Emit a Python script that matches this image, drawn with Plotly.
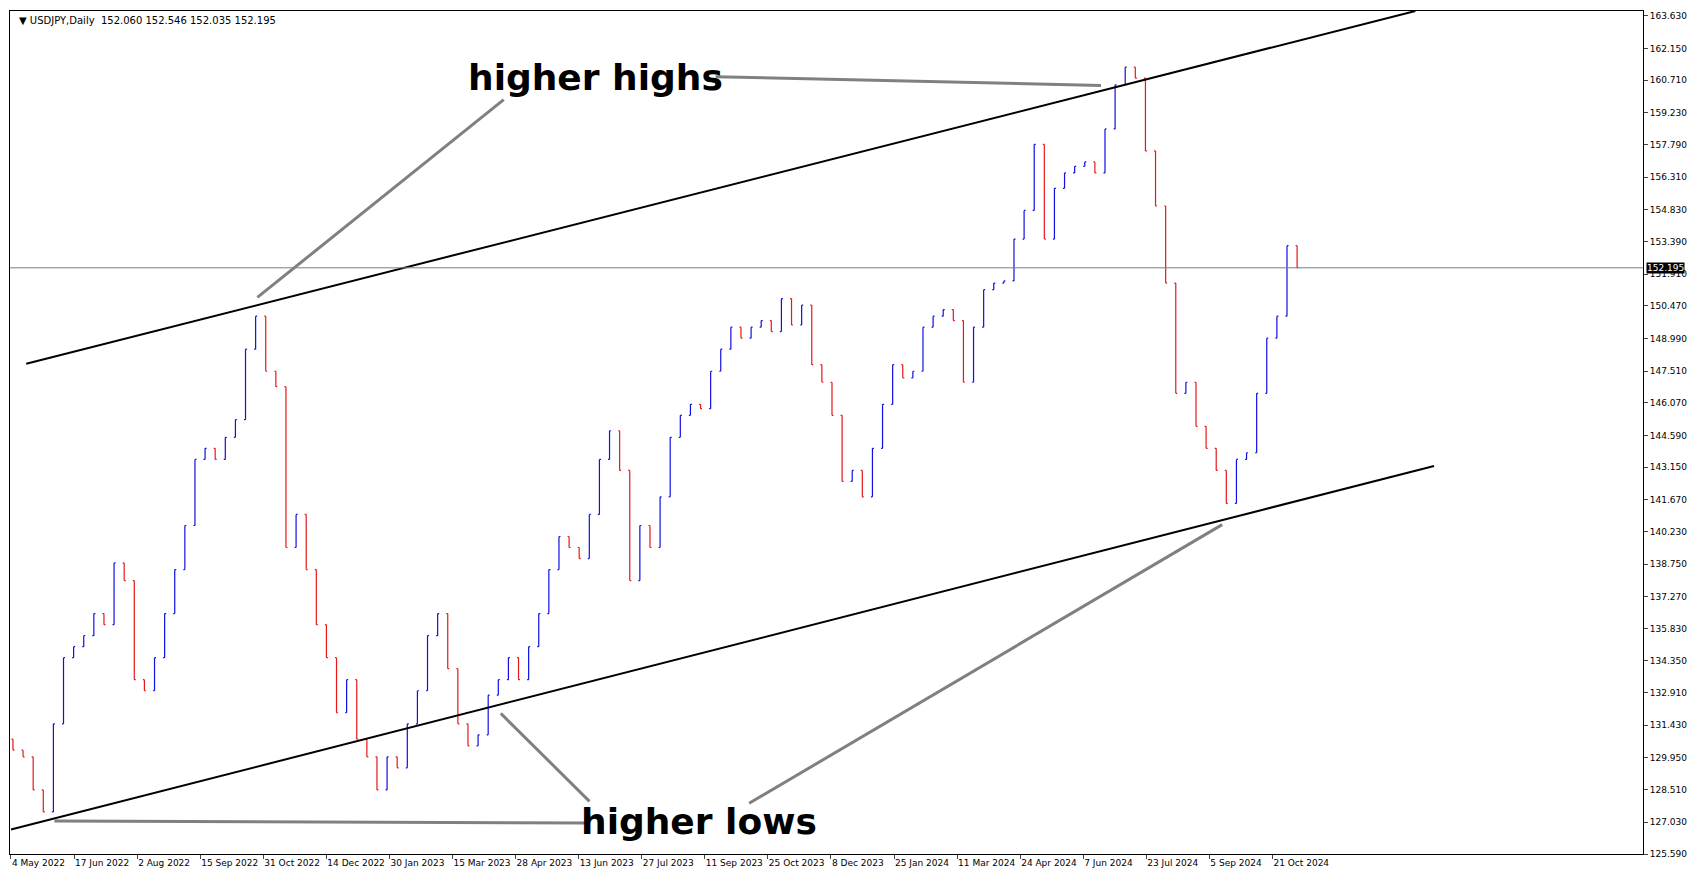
import plotly.graph_objects as go

# weekly closes (USDJPY, May 2022 - Nov 2024)
closes = [
    130.3, 130.0, 128.5, 127.5, 131.5, 134.5, 135.0, 135.5, 136.5, 136.0,
    138.8, 138.0, 133.5, 133.0, 134.5, 136.5, 138.5, 140.5, 143.5, 144.0,
    143.5, 144.5, 145.3, 148.5, 150.0, 147.5, 146.8, 139.5, 141.0, 138.5,
    136.0, 134.5, 132.0, 133.5, 130.8, 130.0, 128.5, 130.0, 129.5, 131.5,
    133.0, 135.5, 136.5, 134.0, 131.5, 130.5, 131.0, 132.8, 133.5, 134.5,
    133.5, 135.0, 136.5, 138.5, 140.0, 139.5, 139.0, 141.0, 143.5, 144.8,
    143.0, 138.0, 140.5, 139.5, 141.8, 144.5, 145.5, 146.0, 145.8, 147.5,
    148.5, 149.5, 149.0, 149.5, 149.8, 149.3, 150.8, 149.6, 150.5, 147.8,
    147.0, 145.5, 142.5, 143.0, 141.8, 144.0, 146.0, 147.8, 147.2, 147.5,
    149.5, 150.0, 150.3, 149.8, 147.0, 149.5, 151.2, 151.5, 151.6, 153.5,
    154.8, 157.8, 153.5, 155.8, 156.5, 156.8, 157.0, 156.5, 158.5, 160.5,
    161.3, 160.8, 157.5, 155.0, 151.5, 146.5, 147.0, 145.0, 144.0, 143.0,
    141.5, 143.5, 143.8, 146.5, 149.0, 150.0, 153.2, 152.2,
]
opens = [130.8] + closes[:-1]

date_labels = [
    "4 May 2022", "17 Jun 2022", "2 Aug 2022", "15 Sep 2022", "31 Oct 2022",
    "14 Dec 2022", "30 Jan 2023", "15 Mar 2023", "28 Apr 2023", "13 Jun 2023",
    "27 Jul 2023", "11 Sep 2023", "25 Oct 2023", "8 Dec 2023", "25 Jan 2024",
    "11 Mar 2024", "24 Apr 2024", "7 Jun 2024", "23 Jul 2024", "5 Sep 2024",
    "21 Oct 2024",
]
price_ticks = [
    163.630, 162.150, 160.710, 159.230, 157.790, 156.310, 154.830, 153.390,
    151.910, 150.470, 148.990, 147.510, 146.070, 144.590, 143.150, 141.670,
    140.230, 138.750, 137.270, 135.830, 134.350, 132.910, 131.430, 129.950,
    128.510, 127.030, 125.590,
]
last_price = 152.195

x = [1 + 5.13 * k for k in range(len(closes))]
highs = [max(o, c) for o, c in zip(opens, closes)]
lows = [min(o, c) for o, c in zip(opens, closes)]

fig = go.Figure(go.Ohlc(
    x=x, open=opens, high=highs, low=lows, close=closes,
    increasing_line_color="#1010e0", decreasing_line_color="#e81818",
    line_width=1.2, tickwidth=0.15, hoverinfo="skip",
))

gray = "#808080"
shapes = [
    # channel lines
    dict(type="line", x0=7.75, y0=147.84, x1=712.5, y1=163.85, line=dict(color="black", width=2)),
    dict(type="line", x0=0, y0=126.70, x1=722, y1=143.20, line=dict(color="black", width=2)),
    # current price
    dict(type="line", xref="paper", x0=0, x1=1, y0=last_price, y1=last_price,
         line=dict(color="#708090", width=1)),
    # annotation pointers
    dict(type="line", x0=125, y0=150.85, x1=250, y1=159.83, line=dict(color=gray, width=3)),
    dict(type="line", x0=357.5, y0=160.87, x1=553, y1=160.47, line=dict(color=gray, width=3)),
    dict(type="line", x0=22, y0=127.09, x1=292, y1=127.00, line=dict(color=gray, width=3)),
    dict(type="line", x0=248.5, y0=131.97, x1=293.5, y1=127.98, line=dict(color=gray, width=3)),
    dict(type="line", x0=374.5, y0=127.89, x1=614.5, y1=140.54, line=dict(color=gray, width=3)),
]

ann_font = dict(family="DejaVu Sans", size=36, color="black")
annotations = [
    dict(x=296.5, y=160.84, text="<b>higher highs</b>", showarrow=False, font=ann_font),
    dict(x=349, y=127.05, text="<b>higher lows</b>", showarrow=False, font=ann_font),
    dict(xref="paper", yref="paper", x=0.004, y=0.998, xanchor="left", yanchor="top",
         text="▼ USDJPY,Daily  152.060 152.546 152.035 152.195", showarrow=False,
         font=dict(family="DejaVu Sans", size=10, color="black")),
    dict(xref="paper", x=1.002, y=last_price, xanchor="left", text=f"{last_price:.3f}",
         showarrow=False, bgcolor="black", font=dict(family="DejaVu Sans", size=9, color="white"),
         borderpad=0),
]

fig.update_layout(
    width=1685, height=868,
    paper_bgcolor="white", plot_bgcolor="white",
    margin=dict(l=2, r=50, t=3, b=22),
    showlegend=False,
    shapes=shapes, annotations=annotations,
    font=dict(family="DejaVu Sans", size=10, color="black"),
)
fig.update_xaxes(
    range=[-0.5, 828], rangeslider_visible=False, showgrid=False, zeroline=False,
    tickvals=[32 * j for j in range(len(date_labels))], ticktext=date_labels,
    ticks="outside", ticklen=4, showline=True, linecolor="black", mirror=True,
    tickfont=dict(size=9), tickangle=0, automargin=False,
    ticklabelposition="outside right",
)
fig.update_yaxes(
    range=[125.59, 163.85], side="right", showgrid=False, zeroline=False,
    tickvals=price_ticks, ticktext=[f"{p:.3f}" for p in price_ticks],
    ticks="outside", ticklen=4, showline=True, linecolor="black", mirror=True,
    tickfont=dict(size=9), automargin=False,
)

fig.write_html("out.html")
